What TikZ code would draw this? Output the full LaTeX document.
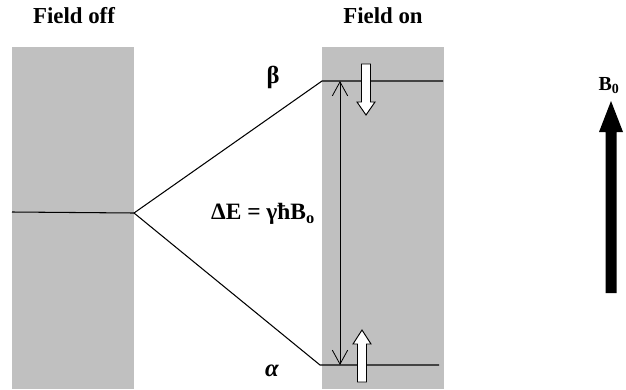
\documentclass[tikz,border=0pt]{standalone}
\usepackage{fontspec}
\setmainfont{Liberation Serif}
\usetikzlibrary{arrows.meta,positioning}
\definecolor{bandgray}{RGB}{192,192,192}
\tikzset{
  band/.style={fill=bandgray},
  level/.style={line width=0.9pt},
  spin/.style={draw=black, fill=white, line width=0.8pt},
  gap/.style={{Straight Barb[length=4.2mm,width=4.6mm]}-{Straight Barb[length=4.2mm,width=4.6mm]}, line width=0.7pt},
  head/.style={font=\bfseries\fontsize{19.5}{22}\selectfont, anchor=base},
  state/.style={font=\bfseries\fontsize{21}{24}\selectfont, inner sep=0pt}
}
\begin{document}
\begin{tikzpicture}[x=0.03cm, y=-0.03cm]
  \useasboundingbox (0,0) rectangle (626,389);
  % bands
  \fill[band] (12,47) rectangle (134,389);
  \fill[band] (322,47) rectangle (444,389);
  \node[head] (off) at (74,23) {Field off};
  \node[head] (on) at (383,23) {Field on};
  % levels
  \coordinate (offL) at (12,212);
  \coordinate (split) at (134,213);
  \coordinate (betaL) at (322,81);
  \coordinate (betaR) at (443,81);
  \coordinate (alphaL) at (320,365);
  \coordinate (alphaR) at (439,365);
  \draw[level] (offL) -- (split);
  \draw[level] (split) -- (betaL) -- (betaR);
  \draw[level] (split) -- (alphaL) -- (alphaR);
  \node[state] (beta) at (273,77) {β};
  \node[state] (alpha) at (272,371) {\itshape α};
  % splitting
  \coordinate (gapT) at (340,81);
  \coordinate (gapB) at (340,365);
  \draw[gap] (gapB) -- (gapT);
  \node[state, font=\bfseries\fontsize{20}{23}\selectfont] (dE) at (263,214) {ΔE = γħB\textsubscript{o}};
  % spins
  \filldraw[spin] (361.5,64) -- (370.5,64) -- (370.5,102) -- (375,102) -- (366,115)
    -- (357,102) -- (361.5,102) -- cycle;
  \filldraw[spin] (357.5,382) -- (366.5,382) -- (366.5,344) -- (371,344) -- (362,330)
    -- (353,344) -- (357.5,344) -- cycle;
  % field
  \node[state, font=\bfseries\fontsize{17}{20}\selectfont] (B0) at (609,86) {B\textsubscript{0}};
  \fill (605.5,293) -- (616.5,293) -- (616.5,132) -- (623,132) -- (611,101)
    -- (599,132) -- (605.5,132) -- cycle;
\end{tikzpicture}
\end{document}
